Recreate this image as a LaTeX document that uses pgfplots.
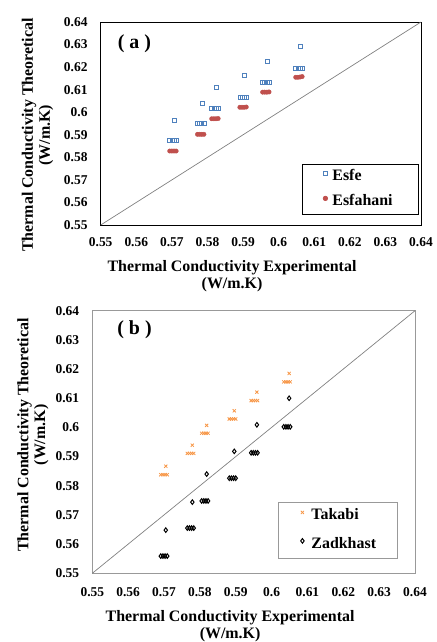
\documentclass[border=0pt]{standalone}
\usepackage{fontspec}
\setmainfont{Liberation Serif}
\usepackage{pgfplots}
\pgfplotsset{compat=1.18}
\definecolor{esfe}{RGB}{79,129,189}
\definecolor{esfahani}{RGB}{192,80,77}
\definecolor{takabi}{RGB}{247,150,70}
\newcommand{\tickfont}{\fontsize{13.5}{13.5}\selectfont\bfseries}
\pgfplotsset{
 myaxis/.style={scale only axis, xmin=0.55,xmax=0.64,ymin=0.55,ymax=0.64,
  xtick={0.55,0.56,0.57,0.58,0.59,0.6,0.61,0.62,0.63,0.64},
  ytick={0.55,0.56,0.57,0.58,0.59,0.6,0.61,0.62,0.63,0.64},
  major tick length=0pt, tick style={draw=none},
  /pgf/number format/assume math mode=true,
  xticklabel={\tickfont\pgfmathprintnumber[assume math mode=true]{\tick}},
  yticklabel={\tickfont\pgfmathprintnumber[assume math mode=true]{\tick}},
  xticklabel style={anchor=north, yshift=-12bp, inner sep=0pt, font=\tickfont},
  yticklabel style={anchor=east, xshift=-13bp, inner sep=0pt, font=\tickfont},
  label style={font=\bfseries\fontsize{16}{17}\selectfont, align=center},
  legend style={font=\bfseries\fontsize{16}{16}\selectfont, anchor=north west,
     nodes={inner sep=0pt, text height=8bp, text depth=3bp}},
  legend cell align=left,
  clip=false
 },
 legimg/.style 2 args={legend image code/.code={%
   \path[draw=none,fill=none] (-#1,-3bp) rectangle (#2,8bp);
   \draw[##1] plot coordinates {(0bp,5bp)};}}
}
\begin{document}
\begin{tikzpicture}
\useasboundingbox (0,0) rectangle (437bp,-642bp);
% ---------------- (a)
\begin{axis}[myaxis, at={(100.7bp,-225bp)}, anchor=south west,
  width=320.3bp, height=203bp,
  axis line style={black, line width=0.8pt},
  xlabel={Thermal Conductivity Experimental\\(W/m.K)},
  ylabel={Thermal Conductivity Theoretical\\(W/m.K)},
  xlabel style={at={(axis description cs:0.41,-0.251)}, anchor=center},
  ylabel style={at={(axis description cs:-0.197,0.443)}, anchor=center},
  legimg={23bp}{7bp},
  legend style={at={(axis description cs:0.6285,0.3005)}, row sep=12bp, inner xsep=0pt, inner ysep=5.5bp, draw=black, line width=0.8pt},
]
\addplot[gray, line width=0.7pt, forget plot] coordinates {(0.55,0.55)(0.64,0.64)};
\addplot[esfe, only marks, mark=square, mark size=2bp, mark options={draw=esfe, line width=0.6pt, fill=white}] coordinates {
(0.5694,0.5876)(0.5700,0.5876)(0.5706,0.5876)(0.5712,0.5876)(0.5708,0.5966)
(0.5772,0.5950)(0.5778,0.5950)(0.5784,0.5950)(0.5790,0.5950)(0.5785,0.6041)
(0.5812,0.6016)(0.5818,0.6016)(0.5824,0.6016)(0.5830,0.6016)(0.5825,0.6109)
(0.5891,0.6068)(0.5897,0.6068)(0.5903,0.6068)(0.5909,0.6068)(0.5904,0.6163)
(0.5955,0.6131)(0.5961,0.6131)(0.5967,0.6131)(0.5973,0.6131)(0.5969,0.6226)
(0.6048,0.6196)(0.6054,0.6196)(0.6060,0.6196)(0.6066,0.6196)(0.6062,0.6292)
};
\addlegendentry{\makebox[86bp][l]{Esfe}}
\addplot[esfahani, only marks, mark=*, mark size=2.2bp, mark options={draw=esfahani, fill=esfahani}] coordinates {
(0.5694,0.5828)(0.5700,0.5828)(0.5706,0.5828)(0.5712,0.5828)
(0.5772,0.5902)(0.5778,0.5902)(0.5784,0.5902)(0.5790,0.5902)
(0.5812,0.5971)(0.5818,0.5971)(0.5824,0.5971)(0.5830,0.5972)
(0.5891,0.6022)(0.5897,0.6022)(0.5903,0.6022)(0.5909,0.6023)
(0.5955,0.6089)(0.5961,0.6089)(0.5967,0.6089)(0.5973,0.6090)
(0.6048,0.6155)(0.6054,0.6155)(0.6060,0.6156)(0.6066,0.6158)
};
\addlegendentry{\makebox[86bp][l]{Esfahani}}
\node[font=\bfseries\fontsize{20}{20}\selectfont] at (axis description cs:0.1055,0.8916) {( a )};
\end{axis}
% ---------------- (b)
\begin{axis}[myaxis, at={(92.3bp,-573.3bp)}, anchor=south west,
  width=322.7bp, height=262.6bp,
  axis line style={gray!80, line width=0.8pt},
  xticklabel style={yshift=-2bp},
  xlabel={Thermal Conductivity Experimental\\(W/m.K)},
  ylabel={Thermal Conductivity Theoretical\\(W/m.K)},
  xlabel style={at={(axis description cs:0.427,-0.2007)}, anchor=center},
  ylabel style={at={(axis description cs:-0.184,0.527)}, anchor=center},
  legimg={24bp}{9bp},
  legend style={at={(axis description cs:0.5755,0.2715)}, row sep=15bp, inner xsep=0pt, inner ysep=7bp, draw=gray!80, line width=0.8pt},
]
\addplot[gray, line width=0.7pt, forget plot] coordinates {(0.55,0.55)(0.64,0.64)};
\addplot[takabi, only marks, mark=x, mark size=2.2bp, mark options={draw=takabi, line width=0.8pt}] coordinates {
(0.5691,0.5838)(0.5697,0.5838)(0.5703,0.5838)(0.5709,0.5838)(0.5705,0.5867)
(0.5765,0.5911)(0.5771,0.5911)(0.5777,0.5911)(0.5783,0.5911)(0.5779,0.5939)
(0.5805,0.5980)(0.5811,0.5980)(0.5817,0.5980)(0.5823,0.5980)(0.5819,0.6007)
(0.5882,0.6029)(0.5888,0.6029)(0.5894,0.6029)(0.5900,0.6029)(0.5896,0.6057)
(0.5943,0.6092)(0.5949,0.6092)(0.5955,0.6092)(0.5961,0.6092)(0.5959,0.6121)
(0.6034,0.6156)(0.6040,0.6156)(0.6046,0.6156)(0.6052,0.6156)(0.6049,0.6185)
};
\addlegendentry{\makebox[86bp][l]{Takabi}}
\addplot[black, only marks, mark=diamond, mark size=2.3bp, mark options={draw=black, line width=1pt, fill=white}] coordinates {
(0.5691,0.5559)(0.5697,0.5559)(0.5703,0.5559)(0.5709,0.5559)(0.5705,0.5648)
(0.5765,0.5655)(0.5771,0.5655)(0.5777,0.5655)(0.5783,0.5655)(0.5779,0.5744)
(0.5805,0.5748)(0.5811,0.5748)(0.5817,0.5748)(0.5823,0.5748)(0.5819,0.5840)
(0.5882,0.5826)(0.5888,0.5826)(0.5894,0.5826)(0.5900,0.5826)(0.5896,0.5918)
(0.5943,0.5913)(0.5949,0.5913)(0.5955,0.5913)(0.5961,0.5913)(0.5959,0.6009)
(0.6034,0.6002)(0.6040,0.6002)(0.6046,0.6002)(0.6052,0.6002)(0.6049,0.6100)
};
\addlegendentry{\makebox[86bp][l]{Zadkhast}}
\node[font=\bfseries\fontsize{20}{20}\selectfont] at (axis description cs:0.1308,0.9265) {( b )};
\end{axis}
\end{tikzpicture}
\end{document}
